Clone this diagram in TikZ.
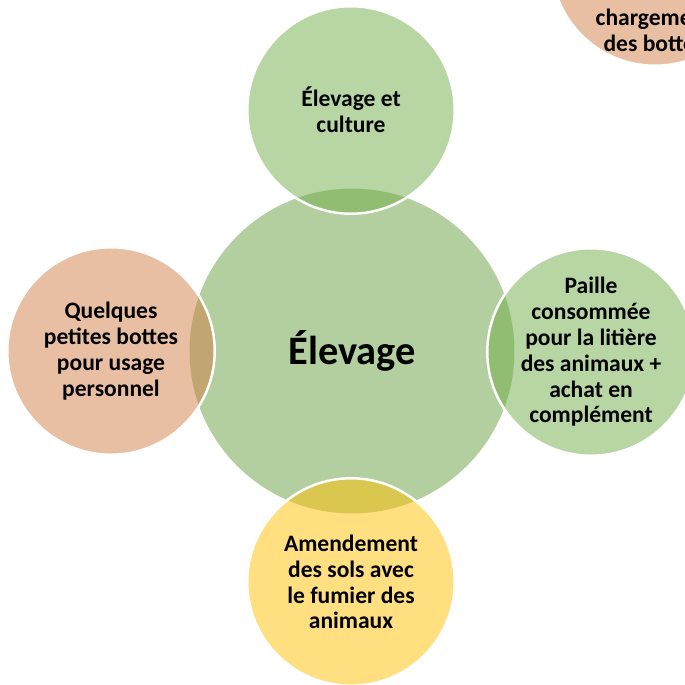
\documentclass[tikz,border=0pt]{standalone}
\usepackage{fontspec}
\setmainfont{Carlito}
\usepackage{tikz}

\definecolor{vertcentre}{RGB}{179,207,160}
\definecolor{vert}{RGB}{112,173,71}
\definecolor{brique}{RGB}{209,127,69}
\definecolor{jaune}{RGB}{255,192,0}

\tikzset{
	bulle/.style={shape=circle,draw=white,line width=1.4pt,fill opacity=0.5,text opacity=1,
		minimum size=4.15cm,inner sep=0pt,align=center,
		font=\bfseries\fontsize{13.4}{14.7}\selectfont},
	centre/.style={shape=circle,fill=vertcentre,minimum size=6.5cm,inner sep=0pt,
		font=\bfseries\fontsize{23}{26}\selectfont}
}

\begin{document}
\begin{tikzpicture}[x=0.02cm,y=-0.02cm]
	
	\useasboundingbox (0,0) rectangle (685,684);
	\clip (0,0) rectangle (685,684);
	
	\node[centre] (elev) at (352, 351) {Élevage};
	
	\node[bulle,fill=vert]   (cult)  at (351, 110) {Élevage et\\culture};
	\node[bulle,fill=brique] (usage) at (111, 351) {Quelques\\petites bottes\\pour usage\\personnel};
	\node[bulle,fill=vert]   (litiere) at (591, 352) {Paille\\consommée\\pour la litière\\des animaux +\\achat en\\complément};
	\node[bulle,fill=jaune]  (fumier) at (351, 582) {Amendement\\des sols avec\\le fumier des\\animaux};
	\node[bulle,fill=brique] (vente) at (655, -38) {};
	\node[align=center,font=\bfseries\fontsize{13.4}{14.7}\selectfont] (ventetxt) at (654, 30) {chargement\\des bottes};
	
\end{tikzpicture}
\end{document}
